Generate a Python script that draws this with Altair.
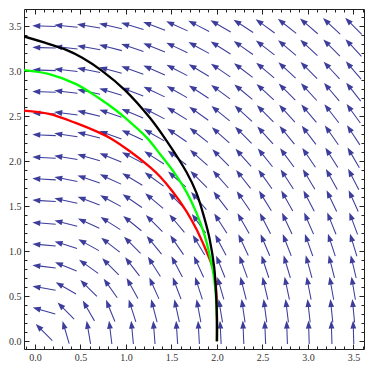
import math
import altair as alt
import pandas as pd

# grid positions of the arrows (same on both axes)
grid = [0.10, 0.34, 0.59, 0.83, 1.07, 1.31, 1.56, 1.80, 2.04, 2.29, 2.53, 2.77, 3.01, 3.26, 3.50]

# curves
red_x = [-0.12, 0.156, 0.447, 0.701, 0.829, 1.047, 1.265, 1.374, 1.519, 1.665, 1.774, 1.855, 1.905, 1.950, 1.980, 1.995, 2.0, 2.0]
red_y = [2.562, 2.525, 2.425, 2.320, 2.256, 2.108, 1.934, 1.830, 1.656, 1.444, 1.248, 1.070, 0.950, 0.830, 0.700, 0.500, 0.300, 0.0]

green_x = [-0.12, 0.156, 0.447, 0.701, 0.883, 0.992, 1.229, 1.374, 1.538, 1.665, 1.774, 1.865, 1.919, 1.963, 1.990, 2.0, 2.0]
green_y = [3.011, 2.967, 2.859, 2.702, 2.571, 2.481, 2.262, 2.080, 1.863, 1.660, 1.429, 1.176, 0.959, 0.742, 0.480, 0.250, 0.0]

black_x = [-0.12, 0.156, 0.338, 0.520, 0.738, 0.992, 1.265, 1.447, 1.665, 1.774, 1.865, 1.919, 1.970, 1.992, 2.0, 2.0]
black_y = [3.385, 3.301, 3.239, 3.149, 3.003, 2.786, 2.479, 2.226, 1.880, 1.651, 1.357, 1.140, 0.820, 0.500, 0.250, 0.0]

major_ticks = [0.0, 0.5, 1.0, 1.5, 2.0, 2.5, 3.0, 3.5]
minor_ticks = [round(-0.1 + 0.1 * i, 1) for i in range(38)]

XDOM = [-0.12, 3.616]
YDOM = [-0.085, 3.69]

rows = []
for gx in grid:
    for gy in grid:
        vx, vy = -gy, gx
        ang = math.degrees(math.atan2(vx, vy)) % 360
        rows.append({"x": gx, "y": gy, "angle": ang})
arrows = pd.DataFrame(rows)

def curve_df(xs, ys):
    return pd.DataFrame({"x": xs, "y": ys, "i": list(range(len(xs)))})

ARROW = "M0,-1 L0.25,-0.32 L0.045,-0.32 L0.045,1 L-0.045,1 L-0.045,-0.32 L-0.25,-0.32 Z"

TICKC = "#222222"
LABC = "#333333"
FONT = "Liberation Serif"

def xaxis(orient, size, labels, values):
    kw = dict(orient=orient, values=values, tickSize=size, offset=-size, domain=False,
              grid=False, title=None, tickColor=TICKC, tickWidth=1)
    if labels:
        kw.update(labels=True, format=".1f", labelFont=FONT, labelFontSize=10,
                  labelColor=LABC, labelPadding=3, labelFlush=False)
    else:
        kw.update(labels=False)
    return alt.Axis(**kw)

xs = lambda: alt.Scale(domain=XDOM, nice=False, zero=False)
ys = lambda: alt.Scale(domain=YDOM, nice=False, zero=False)

arrow_layer = alt.Chart(arrows).mark_point(
    shape=ARROW, filled=True, fill="#3d3d9c", strokeWidth=0, opacity=1, size=550, clip=True
).encode(
    x=alt.X("x:Q", scale=xs(), axis=xaxis("bottom", 5, True, major_ticks)),
    y=alt.Y("y:Q", scale=ys(), axis=xaxis("left", 5, True, major_ticks)),
    angle=alt.Angle("angle:Q", scale=None),
)

def line_layer(xs_, ys_, color, xo, yo, size):
    return alt.Chart(curve_df(xs_, ys_)).mark_line(
        color=color, strokeWidth=2.3, clip=True, interpolate="catmull-rom"
    ).encode(
        x=alt.X("x:Q", scale=xs(), axis=xaxis(xo, size, False, major_ticks if size == 5 else minor_ticks)),
        y=alt.Y("y:Q", scale=ys(), axis=xaxis(yo, size, False, major_ticks if size == 5 else minor_ticks)),
        order="i:Q",
    )

red = line_layer(red_x, red_y, "#ff0000", "bottom", "left", 3)
green = line_layer(green_x, green_y, "#00ff00", "top", "right", 5)
black = line_layer(black_x, black_y, "#000000", "top", "right", 3)

chart = alt.layer(arrow_layer, red, green, black).resolve_axis(
    x="independent", y="independent"
).properties(
    width=340, height=340, padding={"left": 0, "top": 0, "right": 0, "bottom": 0}
).configure_view(stroke="#222222", strokeWidth=1)

chart.save("out.html", embed_options={"renderer": "svg", "actions": False})
